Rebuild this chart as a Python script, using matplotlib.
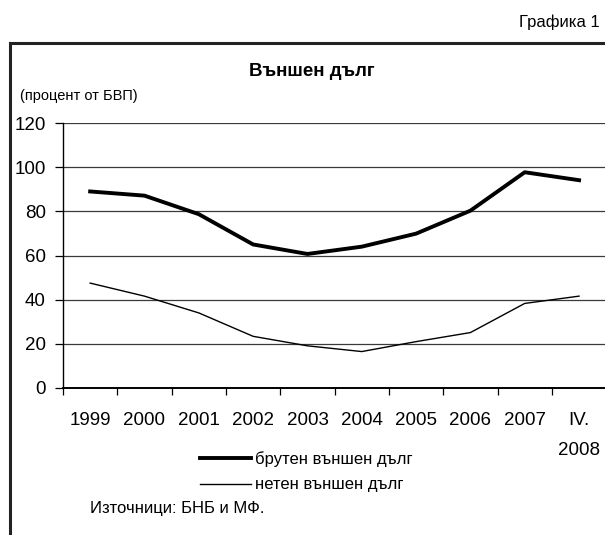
import matplotlib
matplotlib.use('Agg')
import matplotlib.pyplot as plt
from matplotlib.patches import Rectangle
import numpy as np

plt.rcParams['font.family'] = ['Liberation Sans', 'DejaVu Sans']

# data (percent of GDP)
periods = ['1999', '2000', '2001', '2002', '2003', '2004', '2005', '2006', '2007', 'IV.\n2008']
gross_debt = [89.0, 87.1, 78.7, 65.0, 60.7, 64.0, 69.9, 80.3, 97.7, 94.1]
net_debt = [47.5, 41.6, 34.0, 23.4, 19.1, 16.5, 21.0, 25.1, 38.3, 41.6]
y_ticks = [0, 20, 40, 60, 80, 100, 120]

W, H = 605, 535
fig = plt.figure(figsize=(W / 100, H / 100), dpi=100)

# outer frame, cropped on the right and bottom
fig.patches.append(Rectangle((10 / W, -0.2), 1.2, 1.2 - 43 / H,
                             transform=fig.transFigure, fill=False,
                             edgecolor='#222222', linewidth=2.2))

ax = fig.add_axes([63 / W, 1 - 388 / H, 1 - 63 / W + 0.002, 265 / H])

x = np.arange(len(periods))
ax.plot(x, gross_debt, color='black', linewidth=2.8, label='брутен външен дълг')
ax.plot(x, net_debt, color='black', linewidth=1.0, label='нетен външен дълг')

ax.set_xlim(-0.5, len(periods) - 0.5)
ax.set_ylim(0, 120)
ax.set_yticks(y_ticks)
ax.yaxis.grid(True, color='#3a3a3a', linewidth=0.9)
ax.set_axisbelow(True)

ax.set_xticks(np.arange(-0.5, len(periods) - 0.5, 1), minor=False)
ax.set_xticklabels([])
ax.set_xticks(x, minor=True)
ax.set_xticklabels(periods, minor=True, fontsize=13.5, linespacing=2.0, va='top')
ax.tick_params(axis='x', which='minor', length=0, pad=17)
ax.tick_params(axis='x', which='major', length=5, width=0.9, direction='out')
ax.tick_params(axis='y', length=6, width=0.9, labelsize=13.5, pad=6.5)

for s in ['top', 'right']:
    ax.spines[s].set_visible(False)
ax.spines['left'].set_linewidth(1.0)
ax.spines['bottom'].set_linewidth(1.4)

fig.text(600 / W, 1 - 22 / H, 'Графика 1', ha='right', va='center', fontsize=12)
fig.text(312 / W, 1 - 71 / H, 'Външен дълг', ha='center', va='center',
         fontsize=13.5, fontweight='bold')
fig.text(20 / W, 1 - 96 / H, '(процент от БВП)', ha='left', va='center', fontsize=10.5)
fig.text(90 / W, 1 - 508 / H, 'Източници: БНБ и МФ.', ha='left', va='center', fontsize=12)

fig.legend(loc='upper left', bbox_to_anchor=(200 / W, 1 - 451 / H), frameon=False,
           fontsize=12, handlelength=3.05, handletextpad=0.25, labelspacing=0.63,
           borderpad=0, borderaxespad=0)

fig.savefig('out.png', dpi=100)
